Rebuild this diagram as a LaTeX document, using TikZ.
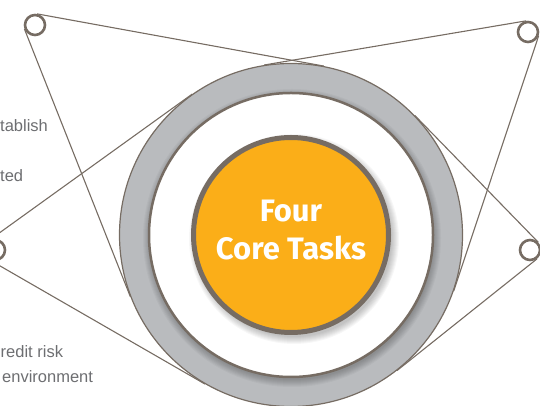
\documentclass[tikz,border=0pt]{standalone}
\usepackage{fontspec}
\setmainfont{Liberation Sans}
\newfontfamily\taskfont{Fira Sans}
\usetikzlibrary{positioning}
\definecolor{RimBrown}{RGB}{118,108,99}
\definecolor{RingGray}{RGB}{185,187,190}
\definecolor{CoreOrange}{RGB}{251,174,24}
\definecolor{NoteGray}{RGB}{109,110,113}
\tikzset{
  endcirc/.style={circle,draw=RimBrown,line width=2.6pt,fill=white,minimum size=20pt,inner sep=0pt},
  link/.style={RimBrown,line width=1.1pt},
  note/.style={anchor=base west,inner sep=0pt,text=NoteGray,font=\fontsize{16.5}{19}\selectfont},
  tasktext/.style={text=white,align=center,inner sep=0pt,font=\taskfont\bfseries\fontsize{31}{38}\selectfont},
}

\begin{document}
\begin{tikzpicture}[x=1pt,y=1pt]
  \useasboundingbox (0,0) rectangle (540,406);
  \coordinate (c) at (291,171);
  % grey ring, white face, orange core
  \node[circle,fill=RingGray,draw=RimBrown,line width=1.2pt,minimum size=343pt,inner sep=0pt] (ring) at (c) {};
  \foreach \k in {0,...,7}
    \fill[black,opacity=.03] ([shift={(1,-3)}]c) circle ({142+\k});
  \node[circle,fill=white,draw=RimBrown,line width=2.5pt,minimum size=284pt,inner sep=0pt] (face) at (c) {};
  \foreach \k in {0,...,7}
    \fill[black,opacity=.03] ([shift={(3,-4)}]c) circle ({98+\k});
  \node[circle,fill=CoreOrange,draw=RimBrown,line width=5pt,minimum size=195pt,inner sep=0pt] (core) at (c) {};
  \node[tasktext] (coretext) at ([yshift=5]core.center) {Four\\Core Tasks};
  % the four small circles and their tangents to the ring
  \node[endcirc] (tlcirc) at (35,381) {};
  \node[endcirc] (trcirc) at (528,374) {};
  \node[endcirc] (lcirc) at (-5,156) {};
  \node[endcirc] (rcirc) at (530,156) {};
  \foreach \n/\a/\b in {tlcirc/201.5/79.7, trcirc/99.5/341.6, lcirc/125.8/240, rcirc/44.2/308.7}{
    \draw[link] (\n.\a) -- (ring.\a);
    \draw[link] (\n.\b) -- (ring.\b);
  }
  % side notes
  \node[note] (n1) at (0,274) {tablish};
  \node[note] (n2) at (0,224) {ted};
  \node[note] (n3) at (0.5,48) {redit risk};
  \node[note] (n4) at (2,23) {environment};
\end{tikzpicture}
\end{document}
